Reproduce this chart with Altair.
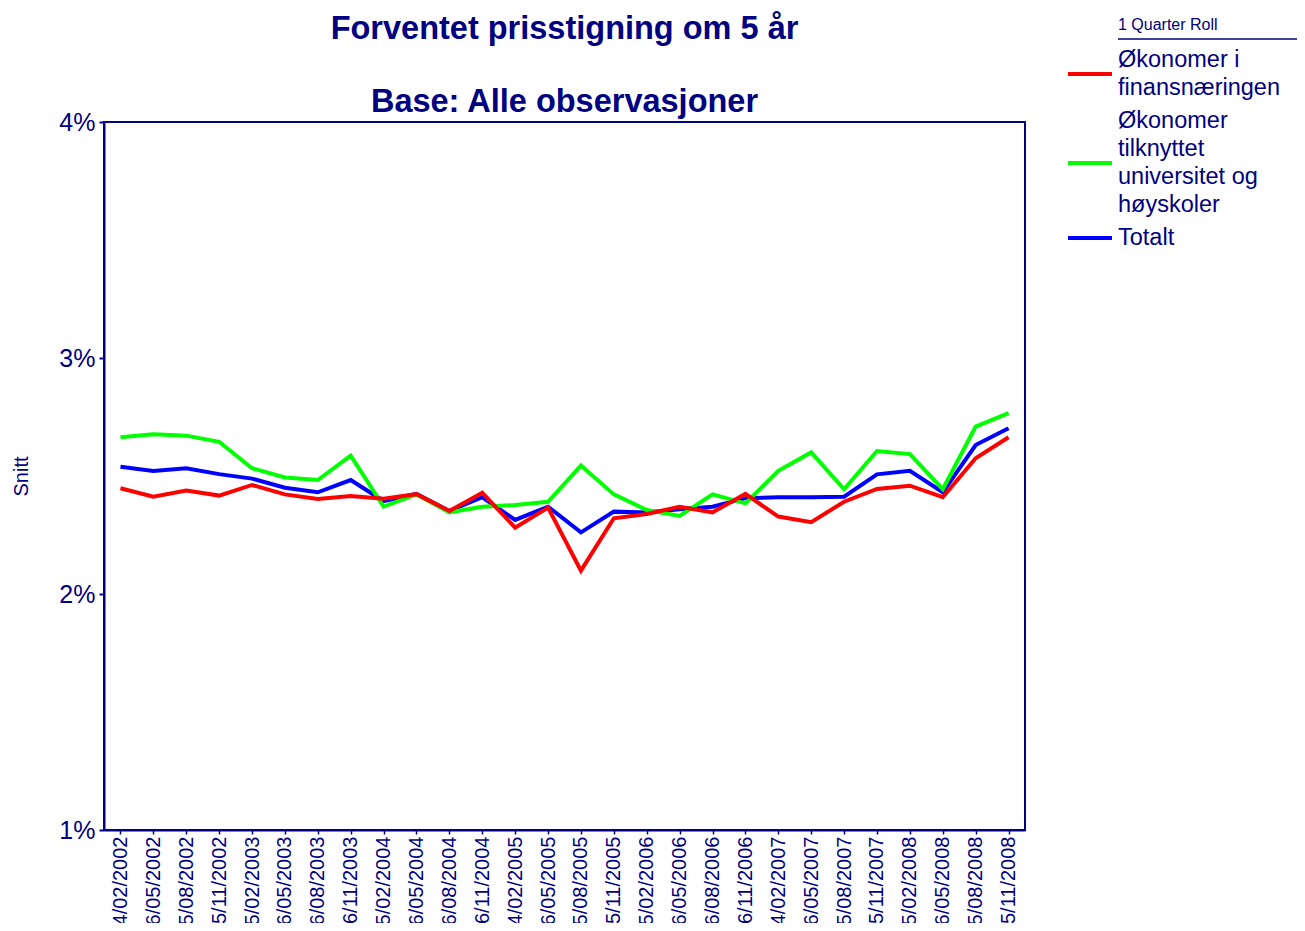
import altair as alt
import pandas as pd

DATES = ["14/02/2002", "16/05/2002", "15/08/2002", "15/11/2002", "15/02/2003", "16/05/2003",
         "16/08/2003", "16/11/2003", "15/02/2004", "16/05/2004", "16/08/2004", "16/11/2004",
         "14/02/2005", "16/05/2005", "15/08/2005", "15/11/2005", "15/02/2006", "16/05/2006",
         "16/08/2006", "16/11/2006", "14/02/2007", "16/05/2007", "15/08/2007", "15/11/2007",
         "15/02/2008", "16/05/2008", "15/08/2008", "15/11/2008"]

FINANS = [2.448, 2.412, 2.438, 2.417, 2.462, 2.422, 2.403, 2.415, 2.404, 2.423, 2.352, 2.429,
          2.281, 2.366, 2.099, 2.321, 2.339, 2.370, 2.346, 2.424, 2.328, 2.304, 2.391, 2.445,
          2.459, 2.410, 2.575, 2.664]
UNIV = [2.664, 2.677, 2.671, 2.645, 2.533, 2.494, 2.483, 2.586, 2.370, 2.422, 2.346, 2.370,
        2.377, 2.391, 2.544, 2.422, 2.356, 2.331, 2.422, 2.384, 2.522, 2.600, 2.444, 2.606,
        2.593, 2.444, 2.709, 2.766]
TOTAL = [2.539, 2.521, 2.533, 2.508, 2.489, 2.450, 2.431, 2.483, 2.394, 2.424, 2.352, 2.410,
         2.314, 2.370, 2.261, 2.349, 2.345, 2.359, 2.370, 2.406, 2.410, 2.410, 2.412, 2.507,
         2.522, 2.431, 2.631, 2.702]

SERIES = ["Økonomer i finansnæringen",
          "Økonomer tilknyttet universitet og høyskoler",
          "Totalt"]
SERIES_LINES = [["Økonomer i", "finansnæringen"],
                ["Økonomer", "tilknyttet", "universitet og", "høyskoler"],
                ["Totalt"]]
COLORS = ["#FF0000", "#00FF00", "#0000FF"]
Y_TICKS = [1, 2, 3, 4]
TITLE = "Forventet prisstigning om 5 år"
SUBTITLE = "Base: Alle observasjoner"
Y_TITLE = "Snitt"
LEGEND_TITLE = ["1 Quarter Roll"]

NAVY = "#000080"
FONT = "Liberation Sans"

rows = []
for name, vals in [(SERIES[2], TOTAL), (SERIES[1], UNIV), (SERIES[0], FINANS)]:
    for d, v in zip(DATES, vals):
        rows.append({"dato": d, "serie": name, "verdi": v})
df = pd.DataFrame(rows)

color_scale = alt.Scale(domain=SERIES, range=COLORS)

lines = alt.Chart(df).mark_line(strokeWidth=4, strokeJoin="miter").encode(
    x=alt.X("dato:N", sort=DATES,
            scale=alt.Scale(type="point", padding=0.5),
            axis=alt.Axis(title=None, labelAngle=-90, labelFontSize=20, labelFont=FONT,
                          labelColor=NAVY, tickColor=NAVY, tickSize=4, tickWidth=1.5,
                          domainColor=NAVY, domainWidth=2, labelPadding=2,
                          labelOverlap=False, grid=False)),
    y=alt.Y("verdi:Q",
            scale=alt.Scale(domain=[1, 4], nice=False, zero=False),
            axis=alt.Axis(title=Y_TITLE, values=Y_TICKS, labelExpr="datum.value + '%'",
                          labelFontSize=25, labelFont=FONT, labelColor=NAVY,
                          tickColor=NAVY, tickSize=5, tickWidth=2, domainColor=NAVY,
                          domainWidth=2, labelPadding=4, grid=False,
                          titleFont=FONT, titleFontSize=20, titleFontWeight="normal",
                          titleColor=NAVY, titleAngle=-90, titleX=-77, titleY=354,
                          titleAlign="center", titleBaseline="alphabetic")),
    color=alt.Color("serie:N", scale=color_scale, legend=None),
)

# manual legend (symbols centred on multi-line labels)
LINE_H = 28
GAP = 5
top = -76  # relative to plot top
leg_rows = []
for name, lns in zip(SERIES, SERIES_LINES):
    block = LINE_H * len(lns)
    centre = top + block / 2
    leg_rows.append({"serie": name, "lines": lns, "yc": centre,
                     "y1": centre - (len(lns) - 1) * LINE_H / 2})
    top += block + GAP
leg_df = pd.DataFrame(leg_rows)

leg_sym = alt.Chart(leg_df).mark_rule(strokeWidth=4).encode(
    x=alt.value(964), x2=alt.value(1008),
    y=alt.Y("yc:Q", scale=None),
    color=alt.Color("serie:N", scale=color_scale, legend=None),
)
leg_txt = alt.Chart(leg_df).mark_text(
    align="left", baseline="middle", fontSize=23.5, font=FONT, color=NAVY, lineHeight=LINE_H
).encode(x=alt.value(1014), y=alt.Y("y1:Q", scale=None), text="lines")

leg_title = alt.Chart(pd.DataFrame({"t": LEGEND_TITLE})).mark_text(
    align="left", baseline="middle", fontSize=16, font=FONT, color=NAVY
).encode(x=alt.value(1014), y=alt.value(-97), text="t:N")

leg_rule = alt.Chart(pd.DataFrame({"t": LEGEND_TITLE})).mark_rule(
    color=NAVY, strokeWidth=1.5
).encode(x=alt.value(1014), x2=alt.value(1195), y=alt.value(-83))

chart = alt.layer(lines, leg_sym, leg_txt, leg_title, leg_rule).properties(
    width=921, height=708,
    padding={"left": 96, "top": 114, "right": 272, "bottom": 93},
    autosize=alt.AutoSizeParams(type="none"),
    title=alt.TitleParams(text=TITLE, subtitle=SUBTITLE, font=FONT, fontSize=32.5,
                          fontWeight="bold", color=NAVY, subtitleFont=FONT,
                          subtitleFontSize=32.5, subtitleFontWeight="bold",
                          subtitleColor=NAVY, subtitlePadding=40.5, anchor="middle",
                          offset=-101),
).configure_view(stroke=NAVY, strokeWidth=2)

chart.save("out.html", embed_options={"renderer": "svg", "actions": False})
